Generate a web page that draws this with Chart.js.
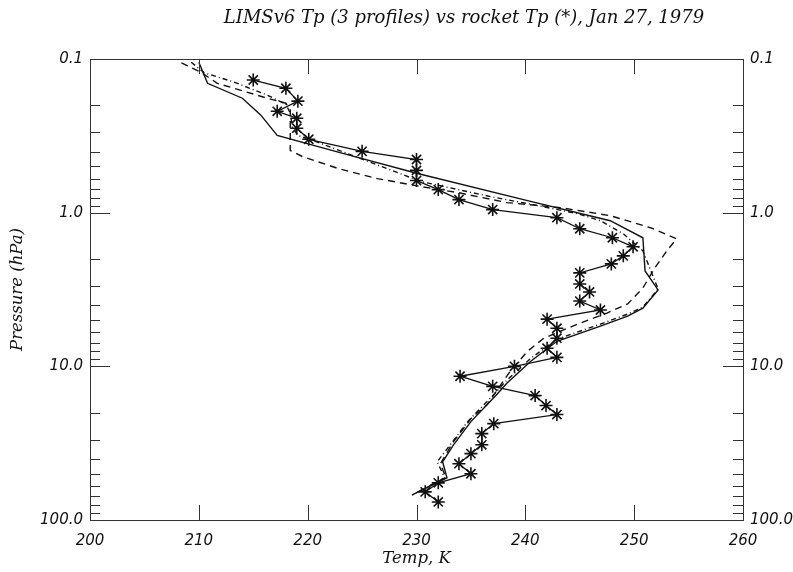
<!DOCTYPE html>
<html><head><meta charset="utf-8">
<script src="https://cdn.jsdelivr.net/npm/chart.js@4.4.1/dist/chart.umd.min.js"></script>
<style>html,body{margin:0;padding:0;background:#fff;}canvas{display:block;}</style>
</head><body>
<canvas id="c" width="793" height="572"></canvas>
<script>
const titleText = "LIMSv6 Tp (3 profiles) vs rocket Tp (*), Jan 27, 1979";
const xTitle = "Temp, K";
const yTitle = "Pressure (hPa)";
const xTicks = [200, 210, 220, 230, 240, 250, 260];
const yMajorTicks = [0.1, 1, 10, 100];
const yTickLabels = ["0.1", "1.0", "10.0", "100.0"];
const yMinorTicks = [0.2,0.3,0.4,0.5,0.6,0.7,0.8,0.9, 2,3,4,5,6,7,8,9, 20,30,40,50,60,70,80,90];

// rocket profile (asterisks)
const rocketT = [215.0, 218.0, 219.1, 217.2, 219.0, 219.0, 220.1, 225.0, 230.0, 230.0, 230.0, 232.0, 233.9, 237.0, 242.9, 245.0, 248.0, 249.9, 249.0, 247.9, 245.0, 245.0, 245.9, 245.0, 246.9, 242.0, 242.9, 242.9, 242.0, 242.9, 239.0, 234.0, 237.0, 240.9, 241.9, 242.9, 237.1, 236.0, 236.0, 235.0, 233.9, 235.0, 232.0, 230.8, 232.0];
const rocketP = [0.137, 0.155, 0.188, 0.219, 0.243, 0.282, 0.333, 0.399, 0.451, 0.531, 0.618, 0.708, 0.822, 0.955, 1.078, 1.272, 1.456, 1.668, 1.91, 2.154, 2.466, 2.91, 3.28, 3.76, 4.30, 4.93, 5.65, 6.56, 7.63, 8.74, 10.0, 11.6, 13.5, 15.5, 18.0, 20.6, 23.6, 27.4, 32.4, 37.0, 43.0, 50.0, 57.3, 65.6, 76.3];

// LIMS profile 1 (solid)
const lims1T = [210.0, 210.8, 214.0, 215.7, 217.2, 223.9, 230.1, 240.2, 247.8, 250.8, 251.0, 252.2, 250.8, 249.4, 246.9, 242.9, 240.5, 238.3, 237.4, 235.0, 233.4, 232.4, 232.8, 229.6];
const lims1P = [0.105, 0.144, 0.180, 0.232, 0.314, 0.424, 0.556, 0.835, 1.128, 1.457, 2.393, 3.184, 4.18, 4.71, 5.48, 6.87, 9.27, 12.9, 15.2, 22.9, 32.4, 41.8, 53.1, 68.7];

// LIMS profile 2 (dashed)
const lims2T = [208.4, 210.2, 211.7, 216.3, 218.0, 218.4, 218.4, 219.5, 222.8, 226.4, 230.4, 233.8, 238.3, 243.2, 247.8, 251.5, 253.9, 253.0, 251.9, 250.8, 249.4, 247.5, 244.8, 241.7, 240.2, 238.6, 236.5, 235.0, 233.4, 232.2, 232.7, 229.6];
const lims2P = [0.106, 0.122, 0.144, 0.180, 0.194, 0.215, 0.394, 0.431, 0.516, 0.600, 0.676, 0.740, 0.860, 0.927, 1.046, 1.253, 1.479, 1.771, 2.288, 3.09, 3.93, 4.50, 5.31, 6.56, 7.98, 10.78, 17.7, 21.9, 30.9, 43.0, 53.1, 68.7];

// LIMS profile 3 (dash-dot)
const lims3T = [209.3, 210.5, 213.2, 216.3, 218.0, 218.4, 218.6, 219.1, 221.2, 230.4, 236.8, 240.2, 244.8, 246.9, 249.0, 250.8, 252.2, 250.8, 249.4, 246.9, 242.9, 240.5, 238.2, 237.2, 234.7, 233.1, 231.9, 232.6, 229.6];
const lims3P = [0.105, 0.123, 0.141, 0.172, 0.197, 0.225, 0.278, 0.314, 0.354, 0.627, 0.786, 0.873, 1.015, 1.128, 1.372, 1.771, 3.14, 4.12, 4.57, 5.31, 6.66, 8.87, 12.5, 15.0, 22.9, 32.4, 41.8, 53.1, 68.7];

const pts = (T, P) => T.map((t, i) => ({x: t, y: P[i]}));
const INK = '#111';
const tickFont = {family: '"DejaVu Sans"', size: 15, style: 'italic'};
const titleFont = {family: '"DejaVu Serif"', size: 16.5, style: 'italic'};

const tickMarks = {
  id: 'tickMarks',
  afterDraw(chart) {
    const {ctx, chartArea: a, scales: {x, y}} = chart;
    ctx.save();
    ctx.strokeStyle = '#333';
    ctx.lineWidth = 1;
    ctx.beginPath();
    xTicks.forEach(v => {
      const px = Math.round(x.getPixelForValue(v)) + 0.5;
      ctx.moveTo(px, a.bottom); ctx.lineTo(px, a.bottom - 15);
      ctx.moveTo(px, a.top); ctx.lineTo(px, a.top + 15);
    });
    const yt = (v, len) => {
      const py = Math.round(y.getPixelForValue(v)) + 0.5;
      ctx.moveTo(a.left, py); ctx.lineTo(a.left + len, py);
      ctx.moveTo(a.right, py); ctx.lineTo(a.right - len, py);
    };
    yMajorTicks.forEach(v => yt(v, 20));
    yMinorTicks.forEach(v => yt(v, 10));
    ctx.stroke();
    ctx.restore();
  }
};

const titlePlugin = {
  id: 'plotTitle',
  afterDraw(chart) {
    const ctx = chart.ctx;
    ctx.save();
    ctx.fillStyle = INK;
    ctx.font = 'italic 18px "DejaVu Serif"';
    ctx.textAlign = 'center';
    ctx.textBaseline = 'middle';
    ctx.fillText(titleText, 464, 18);
    ctx.restore();
  }
};

new Chart(document.getElementById('c'), {
  type: 'scatter',
  data: {
    datasets: [
      {data: pts(lims1T, lims1P), showLine: true, borderColor: INK, borderWidth: 1.4, pointRadius: 0, tension: 0},
      {data: pts(lims2T, lims2P), showLine: true, borderColor: INK, borderWidth: 1.4, borderDash: [7, 5], pointRadius: 0, tension: 0},
      {data: pts(lims3T, lims3P), showLine: true, borderColor: INK, borderWidth: 1.4, borderDash: [5, 3, 1, 3], pointRadius: 0, tension: 0},
      {data: pts(rocketT, rocketP), showLine: true, borderColor: INK, borderWidth: 1.3, pointStyle: 'star', pointRadius: 6.5, pointBorderWidth: 1.6, pointBorderColor: INK, pointBackgroundColor: INK, tension: 0}
    ]
  },
  options: {
    responsive: false,
    animation: false,
    devicePixelRatio: 1,
    layout: {padding: 0},
    plugins: {legend: {display: false}, tooltip: {enabled: false}, title: {display: false}},
    scales: {
      x: {
        type: 'linear', position: 'bottom', min: 200, max: 260,
        afterBuildTicks: s => { s.ticks = xTicks.map(v => ({value: v})); },
        ticks: {font: tickFont, color: INK, padding: 12, maxRotation: 0, autoSkip: false, callback: v => String(v)},
        grid: {display: false, drawTicks: false},
        border: {display: true, color: '#333', width: 1},
        title: {display: true, text: xTitle, font: titleFont, color: INK, padding: {top: 0, bottom: 3}},
        afterFit: s => { s.height = 52; }
      },
      x2: {
        type: 'linear', position: 'top', min: 200, max: 260,
        ticks: {display: false},
        grid: {display: false, drawTicks: false},
        border: {display: true, color: '#333', width: 1},
        afterFit: s => { s.height = 59; }
      },
      y: {
        type: 'logarithmic', position: 'left', min: 0.1, max: 100, reverse: true,
        afterBuildTicks: s => { s.ticks = yMajorTicks.map(v => ({value: v})); },
        ticks: {font: tickFont, color: INK, padding: 7, autoSkip: false, callback: v => yTickLabels[yMajorTicks.indexOf(v)] ?? ''},
        grid: {display: false, drawTicks: false},
        border: {display: true, color: '#333', width: 1},
        title: {display: true, text: yTitle, font: titleFont, color: INK, padding: {top: 8, bottom: 0}},
        afterFit: s => { s.width = 90; }
      },
      y2: {
        type: 'logarithmic', position: 'right', min: 0.1, max: 100, reverse: true,
        afterBuildTicks: s => { s.ticks = yMajorTicks.map(v => ({value: v})); },
        ticks: {font: tickFont, color: INK, padding: 7, autoSkip: false, callback: v => yTickLabels[yMajorTicks.indexOf(v)] ?? ''},
        grid: {display: false, drawTicks: false},
        border: {display: true, color: '#333', width: 1},
        afterFit: s => { s.width = 50; }
      }
    }
  },
  plugins: [tickMarks, titlePlugin]
});
</script>
</body></html>
